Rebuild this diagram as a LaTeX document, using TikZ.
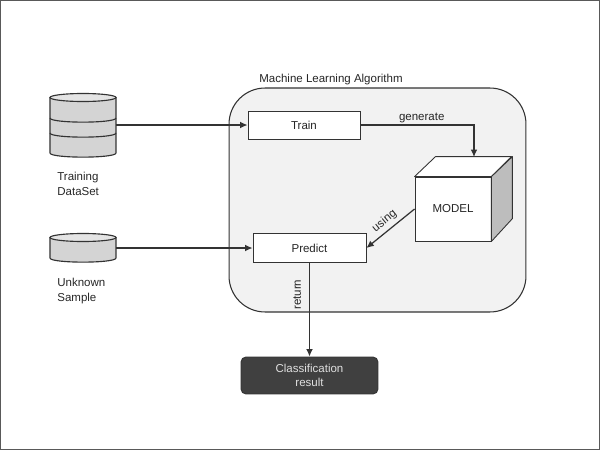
\documentclass[tikz,border=0pt]{standalone}
\usepackage{fontspec}
\setmainfont{Liberation Sans}
\usetikzlibrary{arrows.meta,shapes.geometric,calc}
\definecolor{boxgray}{HTML}{F2F2F2}
\definecolor{dbgray}{HTML}{D4D4D4}
\definecolor{dbtop}{HTML}{E4E4E4}
\definecolor{sidegray}{HTML}{BDBDBD}
\definecolor{darkbox}{HTML}{404040}
\definecolor{linegray}{HTML}{333333}
\tikzset{
  every node/.style={font=\fontsize{6.55}{8.4}\selectfont,text=black!85},
  flow/.style={-{Latex[length=4.2pt,width=3.8pt]},line width=0.7pt,draw=linegray},
  stepbox/.style={draw=linegray,fill=white,line width=0.5pt,inner sep=0pt},
  dbcyl/.style={inner sep=0pt,minimum width=1.32cm},
  dbbody/.style={draw=linegray,line width=0.65pt,fill=dbgray,line join=round},
  dbend/.style={draw=linegray,line width=0.65pt,fill=dbtop},
  dbband/.style={draw=linegray,line width=0.65pt},
  caption/.style={align=left,anchor=north west,inner sep=0pt}
}
\begin{document}
\begin{tikzpicture}[x=0.02cm,y=-0.02cm]
  \useasboundingbox (0,0) rectangle (600,450);
  \node[draw=black!65,line width=0.6pt,minimum width=11.98cm,minimum height=8.98cm,inner sep=0pt] (frame) at (300,225) {};
  % Algorithm container
  \node[draw=linegray,fill=boxgray,line width=0.6pt,rounded corners=0.72cm,minimum width=5.94cm,minimum height=4.48cm,inner sep=0pt] (algo) at (377.5,200) {};
  \node[anchor=south west,inner sep=0pt] (algolabel) at (259,85) {Machine Learning Algorithm};
  % Steps
  \node[stepbox,minimum width=2.24cm,minimum height=0.56cm] (train) at (304,125) {Train};
  \node[stepbox,minimum width=2.26cm,minimum height=0.58cm] (predict) at (309.5,248) {Predict};
  % Cube
  \node[stepbox,minimum width=1.52cm,minimum height=1.28cm] (model) at (453,209) {MODEL};
  \draw[fill=white,line width=0.5pt,draw=linegray,line join=round] (model.north west) -- ++(21,-20) -- ++(76,0) -- (model.north east) -- cycle;
  \draw[fill=sidegray,line width=0.5pt,draw=linegray,line join=round] (model.north east) -- ++(21,-20) -- ++(0,62) -- (model.south east) -- cycle;
  \coordinate (modeltop) at (474,157);
  % Data stores
  \node[dbcyl,minimum height=1.24cm] (trainingdb) at (83,125) {};
  \draw[dbbody] (50,97.5) -- (50,153) .. controls (50,158.5) and (116,158.5) .. (116,153) -- (116,97.5) -- cycle;
  \draw[dbend] (83,97.5) ellipse [x radius=33,y radius=4];
  \draw[dbband] (50,118) .. controls (50,123.5) and (116,123.5) .. (116,118);
  \draw[dbband] (50,133) .. controls (50,138.5) and (116,138.5) .. (116,133);
  \node[dbcyl,minimum height=0.5cm] (sampledb) at (83,248) {};
  \draw[dbbody] (50,237.5) -- (50,258) .. controls (50,263.5) and (116,263.5) .. (116,258) -- (116,237.5) -- cycle;
  \draw[dbend] (83,237.5) ellipse [x radius=33,y radius=4];
  % Labels
  \node[caption] (traininglabel) at (57,172) {Training\\DataSet};
  \node[caption] (samplelabel) at (57,278) {Unknown\\Sample};
  % Result
  \node[draw=linegray,fill=darkbox,text=white!88!black,line width=0.5pt,rounded corners=0.1cm,minimum width=2.74cm,minimum height=0.74cm,align=center,inner sep=0pt] (result) at (309.5,375.5) {Classification\\result};
  % Connectors
  \draw[flow] (trainingdb.east |- train.west) -- (train.west);
  \draw[flow] (sampledb.east |- predict.west) -- (predict.west);
  \draw[flow] (train.east) -| (modeltop) node[pos=0.27,above=1pt,inner sep=0pt] {generate};
  \draw[flow] (model.west) -- (predict.east) node[pos=0.5,above,sloped,inner sep=2pt] {using};
  \draw[flow] (predict.south) -- (result.north) node[pos=0.34,left=2.5pt,rotate=90,anchor=south,inner sep=2pt] {return};
\end{tikzpicture}
\end{document}
